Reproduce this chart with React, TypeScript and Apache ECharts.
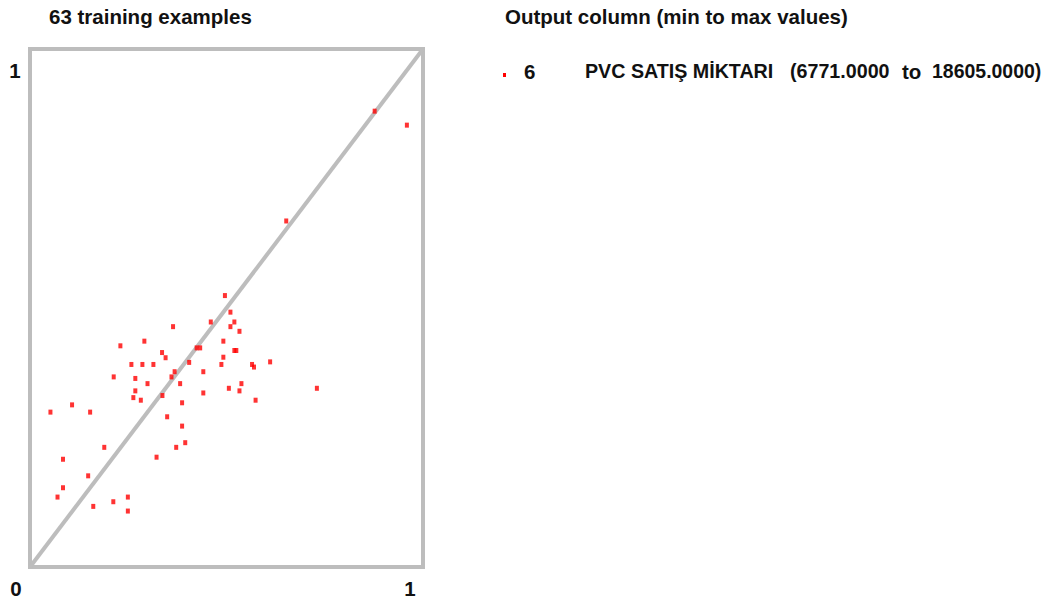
import React, { useEffect, useRef } from "react";
import * as echarts from "echarts";

// Normalized predicted (x) vs actual (y) values of the 63 training examples
const xValues = [
  0.877, 0.959, 0.652, 0.496, 0.51, 0.364, 0.46, 0.52, 0.51, 0.533,
  0.291, 0.23, 0.492, 0.336, 0.345, 0.424, 0.433, 0.52, 0.525, 0.258,
  0.286, 0.314, 0.405, 0.492, 0.487, 0.565, 0.57, 0.611, 0.213, 0.268,
  0.368, 0.36, 0.441, 0.299, 0.382, 0.506, 0.538, 0.533, 0.73, 0.268,
  0.263, 0.282, 0.337, 0.441, 0.574, 0.387, 0.107, 0.052, 0.153, 0.349,
  0.387, 0.395, 0.372, 0.189, 0.322, 0.084, 0.148, 0.084, 0.07, 0.249,
  0.212, 0.161, 0.249,
];
const yValues = [
  0.88, 0.853, 0.668, 0.524, 0.492, 0.464, 0.473, 0.473, 0.464, 0.455,
  0.436, 0.427, 0.436, 0.414, 0.404, 0.423, 0.423, 0.418, 0.418, 0.391,
  0.391, 0.391, 0.395, 0.405, 0.391, 0.391, 0.386, 0.396, 0.367, 0.364,
  0.377, 0.367, 0.377, 0.354, 0.354, 0.345, 0.354, 0.34, 0.345, 0.34,
  0.327, 0.322, 0.331, 0.336, 0.322, 0.317, 0.313, 0.299, 0.299, 0.29,
  0.272, 0.24, 0.231, 0.231, 0.212, 0.208, 0.176, 0.153, 0.135, 0.135,
  0.126, 0.117, 0.108,
];
const diagonal = [
  [0, 0],
  [1, 1],
];
const xTickLabels = ["0", "1"];
const yTickLabels = ["0", "1"];
const chartTitle = "63 training examples";
const legendTitle = "Output column (min to max values)";
const columnIndex = "6";
const columnName = "PVC SATIŞ MİKTARI";
const minText = "(6771.0000";
const toText = "to";
const maxText = "18605.0000)";

const FONT = "'Liberation Sans Narrow', 'Arial Narrow', 'Liberation Sans', Arial, sans-serif";
const GRAY = "#bdbdbd";

export default function App() {
  const ref = useRef<HTMLDivElement>(null);
  useEffect(() => {
    document.body.style.margin = "0";
    const chart = echarts.init(ref.current!, null, { renderer: "svg" });
    const txt = (text: string, x: number, y: number, align = "left", sx = 1) => ({
      type: "text",
      x,
      y,
      scaleX: sx,
      style: {
        text,
        fill: "#111",
        font: `bold 20.5px ${FONT}`,
        textAlign: align,
        textVerticalAlign: "middle",
      },
    });
    chart.setOption({
      animation: false,
      backgroundColor: "#fff",
      grid: {
        left: 30,
        top: 49,
        width: 393,
        height: 518,
        show: true,
        borderColor: GRAY,
        borderWidth: 4,
        backgroundColor: "transparent",
      },
      xAxis: {
        type: "value",
        min: 0,
        max: 1,
        axisLine: { show: false },
        axisTick: { show: false },
        axisLabel: { show: false },
        splitLine: { show: false },
      },
      yAxis: {
        type: "value",
        min: 0,
        max: 1,
        axisLine: { show: false },
        axisTick: { show: false },
        axisLabel: { show: false },
        splitLine: { show: false },
      },
      series: [
        {
          type: "line",
          data: diagonal,
          symbol: "none",
          lineStyle: { color: GRAY, width: 4 },
          silent: true,
          z: 1,
        },
        {
          type: "scatter",
          data: xValues.map((x, i) => [x, yValues[i]]),
          symbol: "rect",
          symbolSize: [4, 5],
          itemStyle: { color: "#ff0000" },
          z: 3,
        },
      ],
      graphic: [
        txt(chartTitle, 49, 16),
        txt(legendTitle, 505, 16),
        txt(yTickLabels[1], 15, 70, "center"),
        txt(xTickLabels[0], 16, 588, "center"),
        txt(xTickLabels[1], 410, 588, "center"),
        {
          type: "rect",
          shape: { x: 503, y: 73, width: 3, height: 4 },
          style: { fill: "#ff0000" },
        },
        txt(columnIndex, 524, 71),
        txt(columnName, 585, 71, "left", 0.96),
        txt(minText, 790, 71, "left", 0.96),
        txt(toText, 902, 71),
        txt(maxText, 932, 71, "left", 0.95),
      ],
    });
    return () => chart.dispose();
  }, []);
  return (
    <div
      ref={ref}
      style={{ position: "absolute", left: 0, top: 0, width: 1051, height: 605 }}
    />
  );
}
